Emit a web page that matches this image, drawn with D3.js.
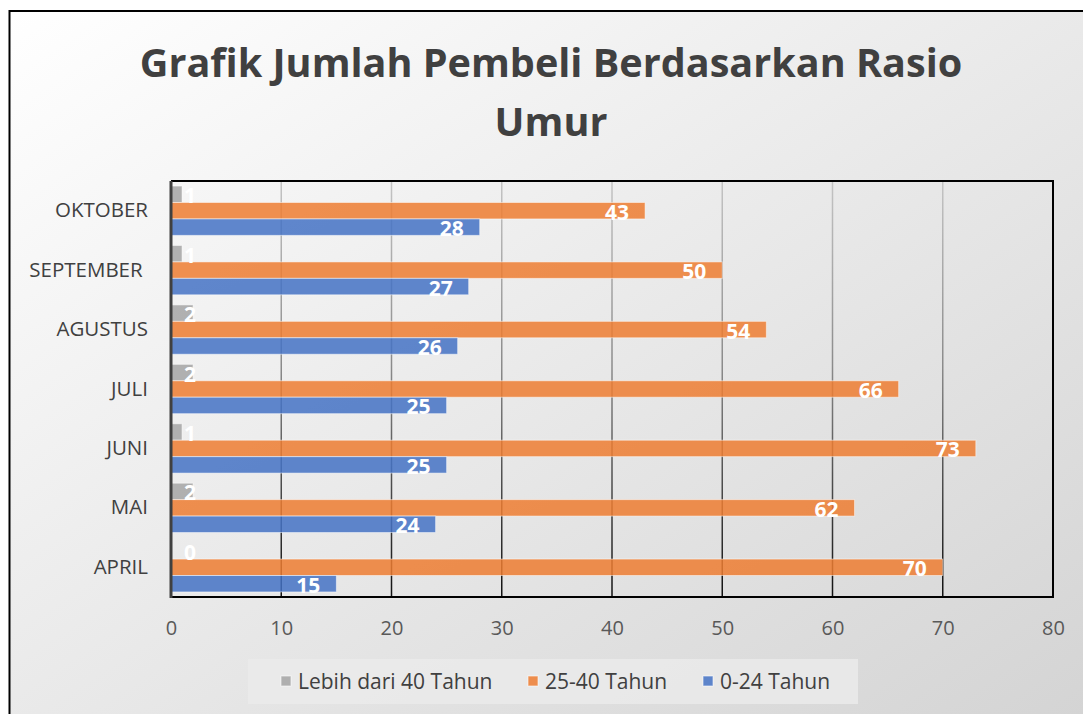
<!DOCTYPE html>
<html>
<head>
<meta charset="utf-8">
<script src="https://cdn.jsdelivr.net/npm/d3@7"></script>
<style>
  body { margin: 0; background: #fff; }
  svg { display: block; font-family: "Open Sans", sans-serif; }
</style>
</head>
<body>
<svg width="1083" height="714"></svg>
<script>
// data
var bulan = ["APRIL", "MAI", "JUNI", "JULI", "AGUSTUS", "SEPTEMBER ", "OKTOBER"];
var lebih40 = [0, 2, 1, 2, 2, 1, 1];
var umur25_40 = [70, 62, 73, 66, 54, 50, 43];
var umur0_24 = [15, 24, 25, 25, 26, 27, 28];
var namaSeri = ["Lebih dari 40 Tahun", "25-40 Tahun", "0-24 Tahun"];
var warnaSeri = ["#a5a5a5", "#ed7d31", "#4472c4"];
var tickX = [0, 10, 20, 30, 40, 50, 60, 70, 80];

var svg = d3.select("svg");
var defs = svg.append("defs");

// latar gradasi
var bg = defs.append("linearGradient").attr("id", "bg")
  .attr("x1", "0").attr("y1", "0").attr("x2", "1").attr("y2", "1");
bg.append("stop").attr("offset", "0").attr("stop-color", "#ffffff");
bg.append("stop").attr("offset", "1").attr("stop-color", "#d3d3d3");

var gl = defs.append("linearGradient").attr("id", "grid")
  .attr("gradientUnits", "userSpaceOnUse")
  .attr("x1", 0).attr("y1", 181).attr("x2", 0).attr("y2", 597);
gl.append("stop").attr("offset", "0").attr("stop-color", "#c4c4c4");
gl.append("stop").attr("offset", "0.45").attr("stop-color", "#8a8a8a");
gl.append("stop").attr("offset", "1").attr("stop-color", "#111");

svg.append("rect").attr("x", 9.5).attr("y", 11).attr("width", 1100).attr("height", 720)
  .attr("fill", "url(#bg)").attr("stroke", "#000").attr("stroke-width", 2);

// judul
var judul = svg.append("text").attr("text-anchor", "middle")
  .attr("fill", "#404040").attr("font-weight", "bold").attr("font-size", 39.6);
judul.append("tspan").attr("x", 551).attr("y", 77).text("Grafik Jumlah Pembeli Berdasarkan Rasio");
judul.append("tspan").attr("x", 551).attr("y", 136).text("Umur");

var kiri = 171, kanan = 1053, atas = 181, bawah = 597;

var x = d3.scaleLinear().domain([0, 80]).range([kiri, kanan]);
var y = d3.scaleBand().domain(bulan.slice().reverse()).range([atas, bawah])
  .paddingInner(0.17).paddingOuter(0.085);
var ySub = d3.scaleBand().domain([0, 1, 2]).range([0, y.bandwidth()]);

// garis grid
svg.append("g").selectAll("line").data(tickX.slice(1, -1)).join("line")
  .attr("x1", d => x(d)).attr("x2", d => x(d))
  .attr("y1", atas).attr("y2", bawah)
  .attr("stroke", "url(#grid)").attr("stroke-width", 1.5);

// batang
var seri = [lebih40, umur25_40, umur0_24];
var baris = [];
bulan.forEach(function(b, i) {
  seri.forEach(function(s, j) {
    baris.push({ bulan: b, seri: j, nilai: s[i] });
  });
});

svg.append("g").selectAll("rect").data(baris).join("rect")
  .attr("x", x(0))
  .attr("y", d => y(d.bulan) + ySub(d.seri))
  .attr("width", d => x(d.nilai) - x(0))
  .attr("height", ySub.bandwidth())
  .attr("fill", d => warnaSeri[d.seri])
  .attr("fill-opacity", 0.85)
  .attr("stroke", "#fff").attr("stroke-opacity", 0.5).attr("stroke-width", 1);

// label nilai
svg.append("g").selectAll("text").data(baris).join("text")
  .attr("x", d => Math.max(x(d.nilai) - 16, 196))
  .attr("y", d => y(d.bulan) + ySub(d.seri) + ySub.bandwidth() / 2 + 1)
  .attr("dominant-baseline", "central")
  .attr("text-anchor", "end")
  .attr("fill", "#fff").attr("font-weight", "bold").attr("font-size", 21)
  .text(d => d.nilai);

// bingkai plot
svg.append("line").attr("x1", kiri).attr("x2", kanan + 1).attr("y1", atas).attr("y2", atas)
  .attr("stroke", "#000").attr("stroke-width", 2);
svg.append("line").attr("x1", kanan).attr("x2", kanan).attr("y1", atas).attr("y2", bawah)
  .attr("stroke", "#000").attr("stroke-width", 2);
svg.append("line").attr("x1", kiri).attr("x2", kanan + 1).attr("y1", bawah).attr("y2", bawah)
  .attr("stroke", "#000").attr("stroke-width", 2);
svg.append("line").attr("x1", kiri).attr("x2", kiri).attr("y1", atas).attr("y2", bawah + 1)
  .attr("stroke", "#404040").attr("stroke-width", 3);

// sumbu x
var sumbuX = svg.append("g").attr("transform", "translate(0," + bawah + ")")
  .call(d3.axisBottom(x).tickValues(tickX).tickSize(0).tickPadding(24));
sumbuX.select(".domain").remove();
sumbuX.selectAll("text").attr("font-size", 20).attr("fill", "#595959")
  .attr("font-family", "'Open Sans', sans-serif");

// sumbu y
var sumbuY = svg.append("g").attr("transform", "translate(" + (kiri - 23) + ",0)")
  .call(d3.axisLeft(y).tickSize(0).tickPadding(0));
sumbuY.select(".domain").remove();
sumbuY.selectAll("text").attr("font-size", 20.5).attr("fill", "#404040")
  .attr("font-family", "'Open Sans', sans-serif")
  .style("white-space", "pre");

// legenda
svg.append("rect").attr("x", 248).attr("y", 659).attr("width", 610).attr("height", 45)
  .attr("fill", "#ebebeb").attr("fill-opacity", 0.8);
var posLegenda = [281, 528, 703];
var leg = svg.append("g").selectAll("g").data(namaSeri).join("g")
  .attr("transform", (d, i) => "translate(" + posLegenda[i] + ",681)");
leg.append("rect").attr("x", 0).attr("y", -5).attr("width", 10).attr("height", 10)
  .attr("fill", (d, i) => warnaSeri[i]).attr("fill-opacity", 0.85)
  .attr("stroke", "#fff").attr("stroke-opacity", 0.6);
leg.append("text").attr("x", 17).attr("y", 0).attr("dominant-baseline", "central")
  .attr("font-size", 21).attr("fill", "#404040").text(d => d);
</script>
</body>
</html>
